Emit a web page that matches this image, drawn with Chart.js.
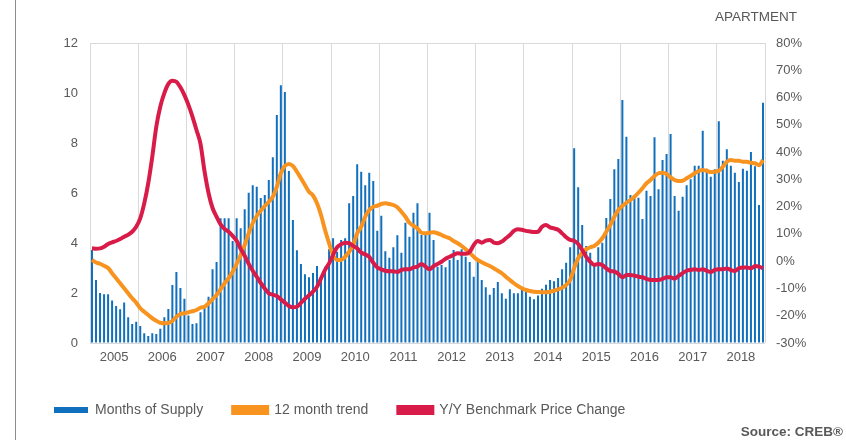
<!DOCTYPE html>
<html>
<head>
<meta charset="utf-8">
<script src="https://cdn.jsdelivr.net/npm/chart.js@4/dist/chart.umd.min.js"></script>
<style>
  html, body { margin: 0; padding: 0; background: #fff; }
  #wrap { position: relative; width: 846px; height: 440px; overflow: hidden; }
  #edge { position: absolute; left: 15px; top: 0; width: 1px; height: 440px; background: #8c8c8c; }
  .txt { position: absolute; font-family: 'Liberation Sans', Arial, sans-serif; color: #595959; white-space: nowrap; }
  #title { right: 49px; top: 9px; font-size: 13.5px; }
  #source { right: 3px; top: 424px; font-size: 13.5px; font-weight: bold; }
</style>
</head>
<body>
<div id="wrap">
  <canvas id="chart" width="846" height="440"></canvas>
  <div id="edge"></div>
  <div id="title" class="txt">APARTMENT</div>
  <div id="source" class="txt">Source: CREB®</div>
</div>
<script>
  // Years shown on the axis, one bar per month.
  const years = [2005, 2006, 2007, 2008, 2009, 2010, 2011, 2012, 2013, 2014, 2015, 2016, 2017, 2018];

  // Months of supply (left axis).
  const monthsOfSupply = [
    3.72, 2.52, 2.0, 1.95, 1.95, 1.7, 1.48, 1.35, 1.62, 1.03, 0.76, 0.85,
    0.68, 0.39, 0.28, 0.39, 0.36, 0.57, 1.03, 1.36, 2.32, 2.84, 2.2, 1.77,
    1.1, 0.76, 0.79, 1.23, 1.45, 1.85, 2.95, 3.24, 4.99, 4.99, 4.99, 4.08,
    4.99, 4.59, 5.35, 6.01, 6.31, 6.25, 5.8, 5.92, 6.52, 7.43, 9.12, 10.31,
    10.04, 6.88, 4.92, 3.71, 3.16, 2.75, 2.63, 2.8, 3.08, 2.65, 3.05, 3.75,
    4.19, 3.65, 4.12, 4.19, 5.59, 5.88, 7.15, 6.85, 6.31, 6.81, 6.48, 4.49,
    5.09, 3.67, 3.41, 3.83, 4.31, 3.61, 4.81, 4.25, 5.21, 5.59, 4.32, 4.32,
    5.21, 4.12, 3.05, 3.12, 3.03, 3.32, 3.72, 3.32, 3.75, 3.45, 3.24, 2.65,
    3.24, 2.52, 2.23, 1.93, 2.2, 2.44, 1.99, 1.77, 2.15, 1.99, 1.99, 2.12,
    2.12, 1.85, 1.75, 1.9, 2.17, 2.33, 2.52, 2.47, 2.6, 2.95, 3.21, 3.83,
    7.79, 6.23, 4.72, 3.88, 3.61, 3.19, 3.83, 4.01, 5.0, 5.76, 6.95, 7.36,
    9.72, 8.25, 5.92, 5.85, 5.81, 4.96, 6.09, 5.88, 8.23, 6.15, 7.32, 7.56,
    8.36, 5.88, 5.29, 5.85, 6.31, 6.55, 7.09, 7.09, 8.49, 6.97, 6.65, 6.95,
    8.87, 7.29, 7.75, 7.09, 6.81, 6.44, 6.97, 6.89, 7.64, 7.07, 5.52, 9.61
  ];

  // 12 month trend (left axis).
  const trend12 = [
    3.32, 3.22, 3.17, 3.09, 3.0, 2.79, 2.59, 2.39, 2.19, 1.99, 1.79, 1.61,
    1.39, 1.25, 1.12, 0.99, 0.89, 0.81, 0.79, 0.8, 0.88, 1.05, 1.16, 1.19,
    1.23, 1.27, 1.32, 1.41, 1.45, 1.59, 1.75, 1.92, 2.15, 2.39, 2.59, 2.85,
    3.16, 3.52, 3.92, 4.39, 4.79, 5.08, 5.29, 5.48, 5.65, 5.85, 6.25, 6.79,
    7.08, 7.16, 7.08, 6.85, 6.59, 6.32, 6.05, 5.9, 5.59, 5.12, 4.52, 3.99,
    3.52, 3.32, 3.32, 3.45, 3.65, 3.92, 4.39, 4.65, 5.05, 5.32, 5.45, 5.49,
    5.56, 5.59, 5.56, 5.52, 5.43, 5.25, 5.05, 4.81, 4.69, 4.59, 4.41, 4.39,
    4.41, 4.43, 4.39, 4.32, 4.25, 4.19, 4.08, 3.99, 3.88, 3.75, 3.61, 3.45,
    3.32, 3.23, 3.15, 3.08, 2.99, 2.89, 2.79, 2.65, 2.52, 2.39, 2.28, 2.19,
    2.12, 2.08, 2.05, 2.04, 2.03, 2.03, 2.05, 2.09, 2.15, 2.21, 2.32, 2.52,
    2.99, 3.39, 3.61, 3.75, 3.83, 3.88, 4.01, 4.19, 4.45, 4.72, 5.05, 5.32,
    5.48, 5.61, 5.72, 5.85, 6.01, 6.19, 6.39, 6.52, 6.68, 6.79, 6.81, 6.76,
    6.63, 6.52, 6.48, 6.49, 6.59, 6.68, 6.79, 6.88, 6.92, 6.89, 6.84, 6.85,
    6.89, 7.05, 7.25, 7.32, 7.29, 7.29, 7.25, 7.25, 7.21, 7.19, 7.11, 7.32
  ];

  // Y/Y benchmark price change, % (right axis).
  const priceChange = [
    4.7, 4.6, 4.7, 5.3, 6.3, 6.9, 7.4, 8.1, 9.0, 9.7, 10.8, 12.6,
    15.7, 21.2, 28.6, 38.3, 49.3, 56.7, 61.6, 65.0, 66.2, 65.8, 63.8, 60.9,
    57.3, 53.0, 48.1, 43.0, 33.0, 25.0, 19.5, 16.3, 13.5, 11.8, 10.8, 9.3,
    7.5, 4.5, 2.0, -1.0, -3.5, -5.7, -8.0, -10.0, -11.8, -12.3, -12.8, -14.0,
    -15.2, -16.4, -16.9, -16.7, -15.3, -13.8, -12.5, -11.2, -9.4, -6.3, -3.2, -0.8,
    2.3, 5.1, 6.2, 6.8, 6.6, 5.6, 4.7, 3.1, 2.5, 1.6, -0.6, -2.3,
    -3.0, -3.5, -3.7, -3.7, -4.0, -3.2, -3.0, -3.0, -2.3, -2.0, -1.0, -2.0,
    -3.0, -1.8, -1.0, -0.2, 0.9, 1.6, 2.3, 2.9, 2.7, 2.7, 3.4, 5.9,
    7.4, 6.8, 7.5, 7.8, 6.8, 6.6, 7.2, 8.4, 9.6, 11.1, 11.7, 11.5,
    11.1, 10.9, 10.7, 10.8, 12.6, 13.3, 12.4, 12.0, 11.5, 10.2, 8.8, 7.8,
    7.5, 6.3, 4.1, 1.6, -0.2, -1.4, -1.0, -1.4, -2.6, -3.6, -3.8, -4.7,
    -5.9, -5.1, -5.1, -5.3, -5.7, -5.9, -6.5, -6.9, -6.9, -6.9, -6.5, -5.9,
    -5.9, -6.4, -5.4, -4.4, -3.5, -3.2, -3.0, -3.2, -3.0, -3.5, -4.0, -3.2,
    -3.0, -3.0, -2.7, -3.2, -3.6, -2.6, -2.3, -2.3, -2.6, -1.8, -2.0, -2.6
  ];

  // One label per month.
  const labels = [];
  years.forEach((y) => {
    for (let m = 1; m <= 12; m++) {
      labels.push(y + '-' + (m < 10 ? '0' + m : m));
    }
  });

  const colors = {
    bar: '#1170be',
    trend: '#f7931e',
    price: '#d81b48',
    grid: '#d9d9d9',
    text: '#595959'
  };
  const font = { family: "'Liberation Sans', Arial, sans-serif", size: 13 };

  new Chart(document.getElementById('chart'), {
    type: 'bar',
    data: {
      labels: labels,
      datasets: [
        {
          label: 'Months of Supply',
          data: monthsOfSupply,
          backgroundColor: colors.bar,
          borderWidth: 0,
          barPercentage: 0.5,
          categoryPercentage: 1,
          yAxisID: 'y',
          order: 3
        },
        {
          type: 'line',
          label: '12 month trend',
          data: trend12,
          borderColor: colors.trend,
          backgroundColor: colors.trend,
          borderWidth: 4,
          pointRadius: 0,
          cubicInterpolationMode: 'monotone',
          yAxisID: 'y',
          order: 2
        },
        {
          type: 'line',
          label: 'Y/Y Benchmark Price Change',
          data: priceChange,
          borderColor: colors.price,
          backgroundColor: colors.price,
          borderWidth: 4,
          pointRadius: 0,
          cubicInterpolationMode: 'monotone',
          yAxisID: 'y1',
          order: 1
        }
      ]
    },
    options: {
      responsive: false,
      animation: false,
      devicePixelRatio: 1,
      layout: {
        padding: { left: 24, right: 0, top: 43, bottom: 13 }
      },
      plugins: {
        tooltip: { enabled: false },
        legend: {
          position: 'bottom',
          align: 'start',
          labels: {
            boxWidth: 34,
            boxHeight: 6,
            padding: 30,
            color: colors.text,
            font: { family: font.family, size: 14 },
            sort: (a, b) => a.datasetIndex - b.datasetIndex
          }
        }
      },
      scales: {
        x: {
          type: 'category',
          display: false,
          offset: true
        },
        // Year labels and year gridlines, spanning the same width as the bars.
        xYears: {
          type: 'linear',
          position: 'bottom',
          offset: false,
          min: 0,
          max: years.length * 12,
          afterBuildTicks: function (scale) {
            const ticks = [];
            for (let v = 0; v <= years.length * 12; v += 6) {
              ticks.push({ value: v });
            }
            scale.ticks = ticks;
          },
          afterFit: function (scale) {
            scale.height = 30;
          },
          border: { display: false },
          grid: {
            offset: false,
            drawTicks: false,
            color: (ctx) => (ctx.tick && ctx.tick.value % 12 === 0 ? colors.grid : 'rgba(0,0,0,0)')
          },
          ticks: {
            autoSkip: false,
            maxRotation: 0,
            padding: 7,
            color: colors.text,
            font: font,
            callback: (v) => (v % 12 === 6 ? String(years[(v - 6) / 12]) : '')
          }
        },
        y: {
          position: 'left',
          min: 0,
          max: 12,
          afterFit: function (scale) {
            scale.width = 66;
          },
          border: { display: false },
          grid: {
            drawTicks: false,
            color: (ctx) => (ctx.tick.value === 0 || ctx.tick.value === 12 ? colors.grid : 'rgba(0,0,0,0)')
          },
          ticks: {
            stepSize: 2,
            padding: 12,
            color: colors.text,
            font: font
          }
        },
        y1: {
          position: 'right',
          min: -30,
          max: 80,
          afterFit: function (scale) {
            scale.width = 81;
          },
          border: { display: false },
          grid: { display: false, drawTicks: false },
          ticks: {
            stepSize: 10,
            padding: 11,
            color: colors.text,
            font: font,
            callback: (v) => v + '%'
          }
        }
      }
    }
  });
</script>
</body>
</html>
